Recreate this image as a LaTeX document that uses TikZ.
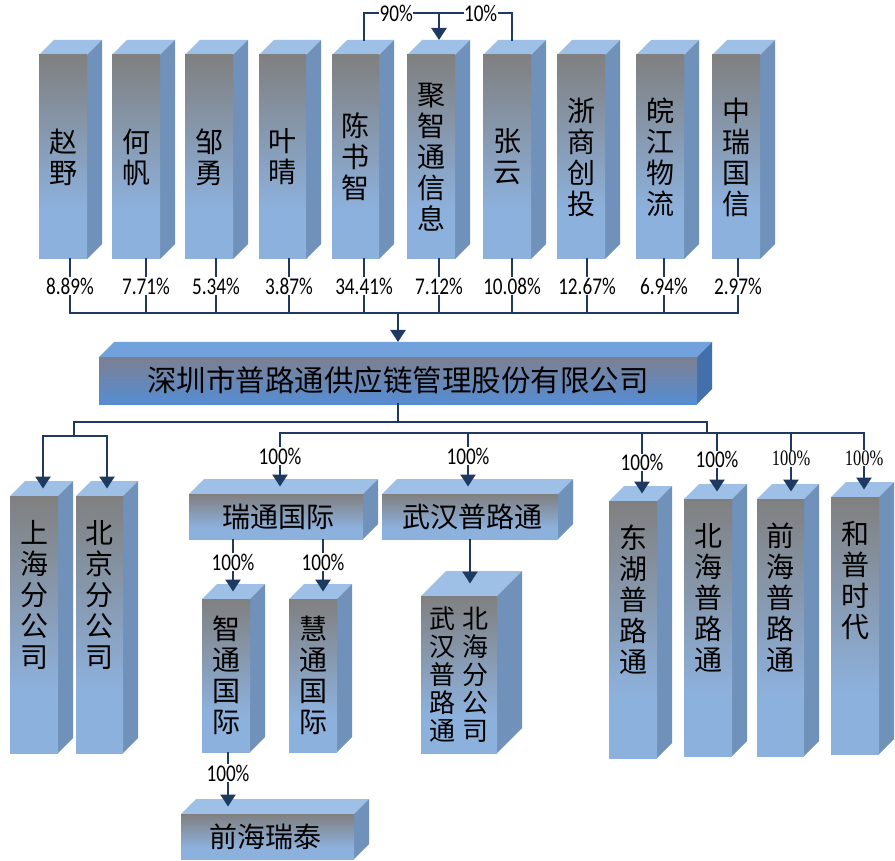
\documentclass[tikz,border=0pt]{standalone}
\usepackage{fontspec}
\newfontfamily\cjkf{Noto Sans CJK SC}
\newfontfamily\pctf[FakeStretch=0.8]{Carlito}
\newfontfamily\pcttf[FakeStretch=0.75]{Liberation Serif}
\usetikzlibrary{arrows.meta,calc}

\definecolor{linec}{HTML}{1F3A60}
\definecolor{topSc}{HTML}{9EC0E6}
\definecolor{sideSc}{HTML}{6F91BA}
\definecolor{ftS}{HTML}{808080}
\definecolor{fbS}{HTML}{8DB1DD}
\definecolor{topMc}{HTML}{72A2DC}
\definecolor{sideMc}{HTML}{4370AA}
\definecolor{ftM}{HTML}{7C8092}
\definecolor{fbM}{HTML}{558DD3}

\pgfdeclareverticalshading{frontS}{100bp}{color(0bp)=(fbS); color(25bp)=(fbS); color(37bp)=(fbS); color(75bp)=(ftS); color(100bp)=(ftS)}
\pgfdeclareverticalshading{frontM}{100bp}{color(0bp)=(fbM); color(25bp)=(fbM); color(75bp)=(ftM); color(100bp)=(ftM)}

\tikzset{
  Stop/.style={fill=topSc},
  Sside/.style={fill=sideSc},
  Sfront/.style={shading=frontS, draw=none, inner sep=0pt, outer sep=0pt},
  Mtop/.style={fill=topMc},
  Mside/.style={fill=sideMc},
  Mfront/.style={shading=frontM, draw=none, inner sep=0pt, outer sep=0pt},
  conn/.style={draw=linec, line width=2.6pt, line cap=rect},
  arr/.style={draw=linec, line width=2.6pt, -{Triangle[width=15pt,length=12pt]}},
  pct/.style={font=\pctf\fontsize{24}{24}\selectfont, fill=white, inner sep=0.5pt, text=black},
  pctt/.style={font=\pcttf\fontsize{22}{22}\selectfont, fill=white, inner sep=0.5pt, text=black},
  vtext/.style={font=\cjkf\fontsize{28}{31}\selectfont, align=center, inner sep=0pt, text=black},
  vtextb/.style={font=\cjkf\fontsize{26}{28}\selectfont, align=center, inner sep=0pt, text=black},
  htext/.style={font=\cjkf\fontsize{28}{31}\selectfont, inner sep=0pt, text=black},
  mtext/.style={font=\cjkf\fontsize{29.5}{32}\selectfont, inner sep=0pt, text=black},
}

% name, x0, y0, x1, y1, depth, style prefix, anchor x
\newcommand\cubebox[8]{%
  \fill[#7top] (#2,#3) -- ({#2+#6},{#3-#6}) -- ({#4+#6},{#3-#6}) -- (#4,#3) -- cycle;
  \fill[#7side] (#4,#3) -- ({#4+#6},{#3-#6}) -- ({#4+#6},{#5-#6}) -- (#4,#5) -- cycle;
  \node[#7front, anchor=north west, minimum width={(#4-#2)*1pt}, minimum height={(#5-#3)*1pt}] (#1) at (#2,#3) {};
  \coordinate (#1-top) at (#8,{#3-#6/2});
  \coordinate (#1-bk) at (#8,{#3-#6});
  \coordinate (#1-bot) at (#8,#5);
}

\begin{document}
\begin{tikzpicture}[x=1pt,y=-1pt]
\useasboundingbox (0,0) rectangle (895,861);

% ---------- shareholders ----------
\cubebox{zy}{39}{55}{87}{259}{15}{S}{70}
\cubebox{hf}{112}{55}{160}{259}{15}{S}{146}
\cubebox{zyg}{185}{55}{233}{259}{15}{S}{216}
\cubebox{yq}{259}{55}{306}{259}{15}{S}{289}
\cubebox{csz}{332}{55}{379}{259}{15}{S}{364}
\cubebox{jz}{407}{55}{455}{259}{15}{S}{439}
\cubebox{zyun}{483}{55}{531}{259}{15}{S}{512}
\cubebox{zs}{557}{55}{605}{259}{15}{S}{587}
\cubebox{wj}{636}{55}{684}{259}{15}{S}{664}
\cubebox{zr}{712}{55}{760}{259}{15}{S}{738}

\node[vtext] (zy-l) at (zy.center) {赵\\野};
\node[vtext] (hf-l) at (hf.center) {何\\帆};
\node[vtext] (zyg-l) at (zyg.center) {邹\\勇};
\node[vtext] (yq-l) at (yq.center) {叶\\晴};
\node[vtext] (csz-l) at (csz.center) {陈\\书\\智};
\node[vtext] (jz-l) at (jz.center) {聚\\智\\通\\信\\息};
\node[vtext] (zyun-l) at (zyun.center) {张\\云};
\node[vtext] (zs-l) at (zs.center) {浙\\商\\创\\投};
\node[vtext] (wj-l) at (wj.center) {皖\\江\\物\\流};
\node[vtext] (zr-l) at (zr.center) {中\\瑞\\国\\信};

% ---------- main company ----------
\cubebox{main}{99}{357}{697}{404}{15}{M}{398}
\node[mtext] (main-l) at (main.center) {深圳市普路通供应链管理股份有限公司};

% ---------- subsidiaries ----------
\cubebox{sh}{10}{496}{58}{753}{15}{S}{43}
\cubebox{bj}{76}{496}{123}{753}{15}{S}{107}
\cubebox{rt}{189}{494}{363}{539}{15}{S}{280}
\cubebox{wh}{382}{494}{558}{539}{15}{S}{468}
\cubebox{zt}{202}{599}{250}{752}{15}{S}{233}
\cubebox{ht}{289}{599}{337}{752}{15}{S}{323}
\cubebox{qr}{181}{814}{354}{859}{15}{S}{228}
\cubebox{whb}{421}{596}{497}{753}{25}{S}{470}
\cubebox{dh}{609}{501}{657}{758}{15}{S}{642}
\cubebox{bh}{684}{499}{732}{756}{15}{S}{717}
\cubebox{qh}{757}{499}{804}{756}{15}{S}{791}
\cubebox{hp}{831}{497}{879}{754}{15}{S}{864}

\node[vtext, anchor=north] (sh-l) at ([yshift=-24pt]sh.north) {上\\海\\分\\公\\司};
\node[vtext, anchor=north] (bj-l) at ([yshift=-24pt]bj.north) {北\\京\\分\\公\\司};
\node[htext] (rt-l) at ([xshift=2pt]rt.center) {瑞通国际};
\node[htext] (wh-l) at ([xshift=2pt]wh.center) {武汉普路通};
\node[vtext] (zt-l) at (zt.center) {智\\通\\国\\际};
\node[vtext] (ht-l) at (ht.center) {慧\\通\\国\\际};
\node[htext] (qr-l) at ([xshift=-2pt]qr.center) {前海瑞泰};
\node[vtextb] (whb-l1) at ([xshift=-16.5pt]whb.center) {武\\汉\\普\\路\\通};
\node[vtextb] (whb-l2) at ([xshift=16.5pt]whb.center) {北\\海\\分\\公\\司};
\node[vtext, anchor=north] (dh-l) at ([yshift=-24pt]dh.north) {东\\湖\\普\\路\\通};
\node[vtext, anchor=north] (bh-l) at ([yshift=-24pt]bh.north) {北\\海\\普\\路\\通};
\node[vtext, anchor=north] (qh-l) at ([yshift=-24pt]qh.north) {前\\海\\普\\路\\通};
\node[vtext, anchor=north] (hp-l) at ([yshift=-24pt]hp.north) {和\\普\\时\\代};

% ---------- connectors: shareholders to main ----------
\coordinate (busT) at (398,313);
\draw[conn] (zy-bot |- busT) -- (zr-bot |- busT);
\draw[conn] (zy-bot) -- node[pct]{8.89\%} (zy-bot |- busT);
\draw[conn] (hf-bot) -- node[pct]{7.71\%} (hf-bot |- busT);
\draw[conn] (zyg-bot) -- node[pct]{5.34\%} (zyg-bot |- busT);
\draw[conn] (yq-bot) -- node[pct]{3.87\%} (yq-bot |- busT);
\draw[conn] (csz-bot) -- node[pct]{34.41\%} (csz-bot |- busT);
\draw[conn] (jz-bot) -- node[pct]{7.12\%} (jz-bot |- busT);
\draw[conn] (zyun-bot) -- node[pct]{10.08\%} (zyun-bot |- busT);
\draw[conn] (zs-bot) -- node[pct]{12.67\%} (zs-bot |- busT);
\draw[conn] (wj-bot) -- node[pct]{6.94\%} (wj-bot |- busT);
\draw[conn] (zr-bot) -- node[pct]{2.97\%} (zr-bot |- busT);
\draw[arr] (busT) -- (main-bk);

% cross holding into 聚智通信息
\coordinate (crossY) at (0,13);
\draw[conn] (csz-bk) -- (csz-bk |- crossY) -- node[pct,pos=0.43]{90\%} (jz-bk |- crossY);
\draw[conn] (zyun-bk) -- (zyun-bk |- crossY) -- node[pct,pos=0.43]{10\%} (jz-bk |- crossY);
\draw[arr] (jz-bk |- crossY) -- (jz-bk);

% ---------- connectors: main to subsidiaries ----------
\coordinate (b1L) at (74,422);
\coordinate (b1R) at (707,422);
\coordinate (b2L) at (280,433);
\coordinate (b2R) at (864,433);
\coordinate (brk) at (74,436);
\draw[conn] (main.south) -- (main.south |- b1L);
\draw[conn] (b1L) -- (b1R) -- (b1R |- b2L);
\draw[conn] (b2L) -- (b2R);
\draw[conn] (b1L) -- (brk);
\draw[conn] (sh-top |- brk) -- (bj-top |- brk);
\draw[arr] (sh-top |- brk) -- (sh-top);
\draw[arr] (bj-top |- brk) -- (bj-top);

\draw[arr] (rt-top |- b2L) -- node[pct,pos=0.43]{100\%} (rt-top);
\draw[arr] (wh-top |- b2L) -- node[pct,pos=0.43]{100\%} (wh-top);
\draw[arr] (dh-top |- b2L) -- node[pct,pos=0.49]{100\%} (dh-top);
\draw[arr] (bh-top |- b2L) -- node[pct,pos=0.45]{100\%} (bh-top);
\draw[arr] (qh-top |- b2L) -- node[pctt,pos=0.44]{100\%} (qh-top);
\draw[arr] (hp-top |- b2L) -- node[pctt,pos=0.44]{100\%} (hp-top);

\draw[arr] (zt-top |- rt.south) -- node[pct,pos=0.44]{100\%} (zt-top);
\draw[arr] (ht-top |- rt.south) -- node[pct,pos=0.44]{100\%} (ht-top);
\draw[arr] (qr-top |- zt.south) -- node[pct,pos=0.39]{100\%} (qr-top);
\draw[arr] (whb-top |- wh.south) -- (whb-top);
\end{tikzpicture}
\end{document}
